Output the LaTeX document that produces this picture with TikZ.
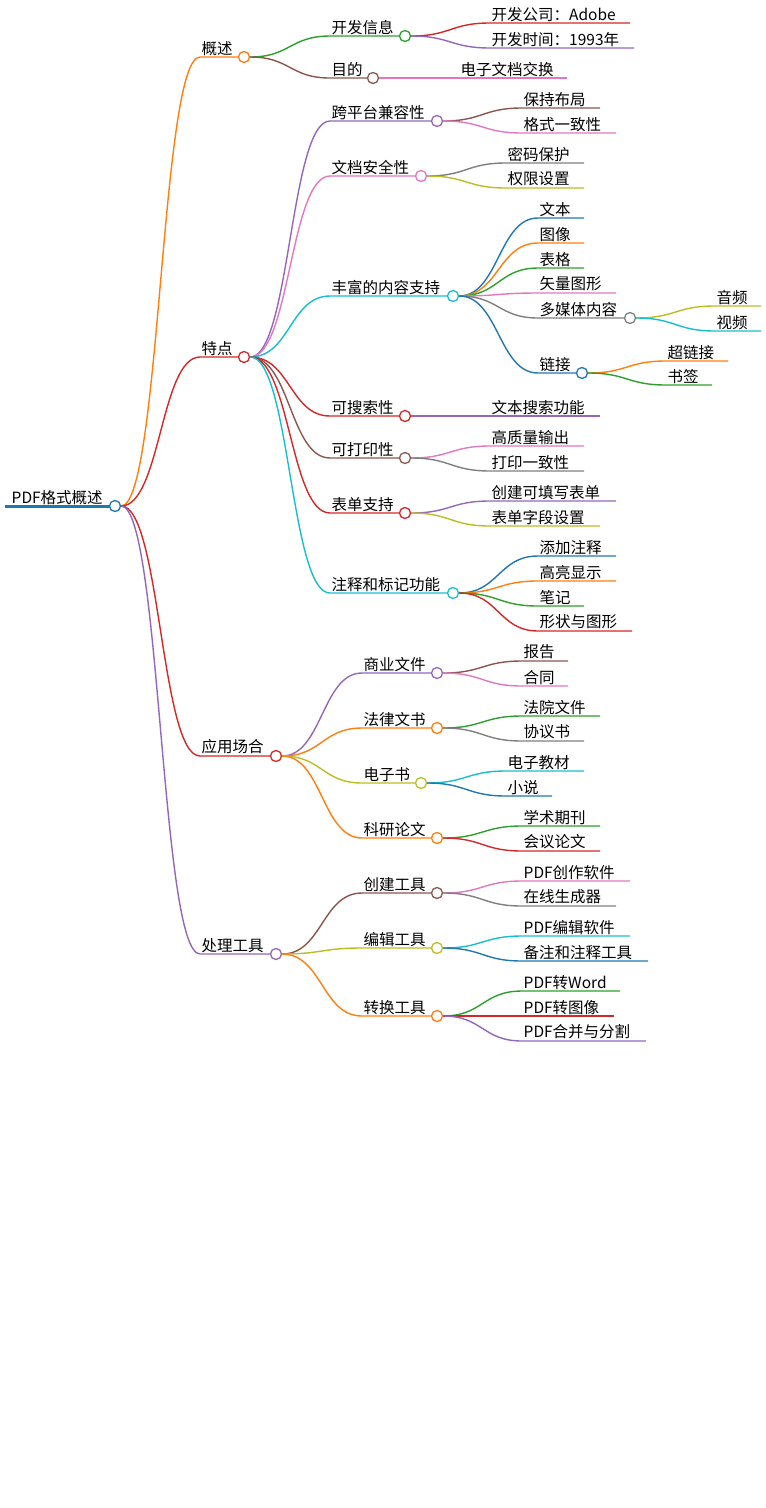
\documentclass[tikz,border=0pt]{standalone}
\usepackage{fontspec}
\usetikzlibrary{calc}
\setmainfont{Noto Sans CJK SC}
\definecolor{cO}{HTML}{FF7F0E}\definecolor{cR}{HTML}{D62728}\definecolor{cP}{HTML}{9467BD}
\definecolor{cG}{HTML}{2CA02C}\definecolor{cB}{HTML}{8C564B}\definecolor{cK}{HTML}{E377C2}
\definecolor{cY}{HTML}{7F7F7F}\definecolor{cL}{HTML}{BCBD22}\definecolor{cC}{HTML}{17BECF}
\definecolor{cU}{HTML}{1F77B4}
\tikzset{lbl/.style={anchor=south west,inner sep=1.5pt,font=\fontsize{15.5}{17}\selectfont},
 knob/.style={circle,draw=#1,fill=white,line width=1.3pt,minimum size=11pt,inner sep=0pt}}
% name, x1, x2, y, color, text, parent
\newcommand\mmleaf[7]{%
 \coordinate (#1s) at (#2,#4); \coordinate (#1e) at (#3,#4);
 \draw[#5,line width=1.4pt] let \p1=(#7.east), \p2=(#1s) in
   (\p1) .. controls ({(\x1+\x2)/2},\y1) and ({(\x1+\x2)/2},\y2) .. (#1s) -- (#1e);
 \node[lbl] (#1) at (#1s) {#6};}
\newcommand\mmin[7]{%
 \mmleaf{#1}{#2}{#3}{#4}{#5}{#6}{#7}%
 \node[knob=#5] (#1c) at (#1e) {};}
\begin{document}
\begin{tikzpicture}[x=1pt,y=-1pt]
\useasboundingbox (0,0) rectangle (766,1508);
\coordinate (rs) at (5,506);
\draw[cU,line width=3pt] (rs) -- (115,506);
\node[lbl] (root) at (10,506) {PDF格式概述};
\node[knob=cU] (rootc) at (115,506) {};
% level 1
\mmin{a}{200}{244}{57}{cO}{概述}{rootc}
\mmin{b}{200}{244}{357}{cR}{特点}{rootc}
\mmin{c}{200}{276}{756}{cR}{应用场合}{rootc}
\mmin{d}{200}{276}{954}{cP}{处理工具}{rootc}
% 概述
\mmin{a1}{330}{405}{36}{cG}{开发信息}{ac}
\mmin{a2}{330}{373}{78}{cB}{目的}{ac}
\mmleaf{a11}{490}{630}{23}{cR}{开发公司：Adobe}{a1c}
\mmleaf{a12}{490}{634}{48}{cP}{开发时间：1993年}{a1c}
\mmleaf{a21}{459}{567}{78}{cK}{电子文档交换}{a2c}
% 特点
\mmin{b1}{330}{437}{121}{cP}{跨平台兼容性}{bc}
\mmin{b2}{330}{421}{176}{cK}{文档安全性}{bc}
\mmin{b3}{330}{453}{296}{cC}{丰富的内容支持}{bc}
\mmin{b4}{330}{405}{416}{cR}{可搜索性}{bc}
\mmin{b5}{330}{405}{458}{cB}{可打印性}{bc}
\mmin{b6}{330}{405}{513}{cR}{表单支持}{bc}
\mmin{b7}{330}{453}{593}{cC}{注释和标记功能}{bc}
\mmleaf{b11}{522}{600}{108}{cB}{保持布局}{b1c}
\mmleaf{b12}{522}{616}{133}{cK}{格式一致性}{b1c}
\mmleaf{b21}{506}{584}{163}{cY}{密码保护}{b2c}
\mmleaf{b22}{506}{584}{188}{cL}{权限设置}{b2c}
\mmleaf{b31}{538}{584}{218}{cU}{文本}{b3c}
\mmleaf{b32}{538}{584}{243}{cO}{图像}{b3c}
\mmleaf{b33}{538}{584}{268}{cG}{表格}{b3c}
\mmleaf{b34}{538}{616}{293}{cK}{矢量图形}{b3c}
\mmin{b35}{538}{630}{318}{cY}{多媒体内容}{b3c}
\mmin{b36}{538}{582}{373}{cU}{链接}{b3c}
\mmleaf{b351}{715}{761}{306}{cL}{音频}{b35c}
\mmleaf{b352}{715}{761}{331}{cC}{视频}{b35c}
\mmleaf{b361}{666}{728}{361}{cO}{超链接}{b36c}
\mmleaf{b362}{666}{712}{385}{cG}{书签}{b36c}
\mmleaf{b41}{490}{600}{416}{cP}{文本搜索功能}{b4c}
\mmleaf{b51}{490}{584}{446}{cK}{高质量输出}{b5c}
\mmleaf{b52}{490}{584}{471}{cY}{打印一致性}{b5c}
\mmleaf{b61}{490}{616}{501}{cP}{创建可填写表单}{b6c}
\mmleaf{b62}{490}{600}{526}{cL}{表单字段设置}{b6c}
\mmleaf{b71}{538}{616}{556}{cU}{添加注释}{b7c}
\mmleaf{b72}{538}{616}{581}{cO}{高亮显示}{b7c}
\mmleaf{b73}{538}{584}{606}{cG}{笔记}{b7c}
\mmleaf{b74}{538}{632}{631}{cR}{形状与图形}{b7c}
% 应用场合
\mmin{c1}{362}{437}{673}{cP}{商业文件}{cc}
\mmin{c2}{362}{437}{728}{cO}{法律文书}{cc}
\mmin{c3}{362}{421}{783}{cL}{电子书}{cc}
\mmin{c4}{362}{437}{838}{cO}{科研论文}{cc}
\mmleaf{c11}{522}{568}{661}{cB}{报告}{c1c}
\mmleaf{c12}{522}{568}{686}{cK}{合同}{c1c}
\mmleaf{c21}{522}{600}{716}{cG}{法院文件}{c2c}
\mmleaf{c22}{522}{584}{741}{cY}{协议书}{c2c}
\mmleaf{c31}{506}{584}{771}{cC}{电子教材}{c3c}
\mmleaf{c32}{506}{552}{796}{cU}{小说}{c3c}
\mmleaf{c41}{522}{600}{826}{cG}{学术期刊}{c4c}
\mmleaf{c42}{522}{600}{851}{cR}{会议论文}{c4c}
% 处理工具
\mmin{d1}{362}{437}{893}{cB}{创建工具}{dc}
\mmin{d2}{362}{437}{948}{cL}{编辑工具}{dc}
\mmin{d3}{362}{437}{1016}{cO}{转换工具}{dc}
\mmleaf{d11}{522}{630}{881}{cK}{PDF创作软件}{d1c}
\mmleaf{d12}{522}{616}{906}{cY}{在线生成器}{d1c}
\mmleaf{d21}{522}{630}{936}{cC}{PDF编辑软件}{d2c}
\mmleaf{d22}{522}{648}{961}{cU}{备注和注释工具}{d2c}
\mmleaf{d31}{522}{620}{991}{cG}{PDF转Word}{d3c}
\mmleaf{d32}{522}{614}{1016}{cR}{PDF转图像}{d3c}
\mmleaf{d33}{522}{646}{1041}{cP}{PDF合并与分割}{d3c}
\end{tikzpicture}
\end{document}
